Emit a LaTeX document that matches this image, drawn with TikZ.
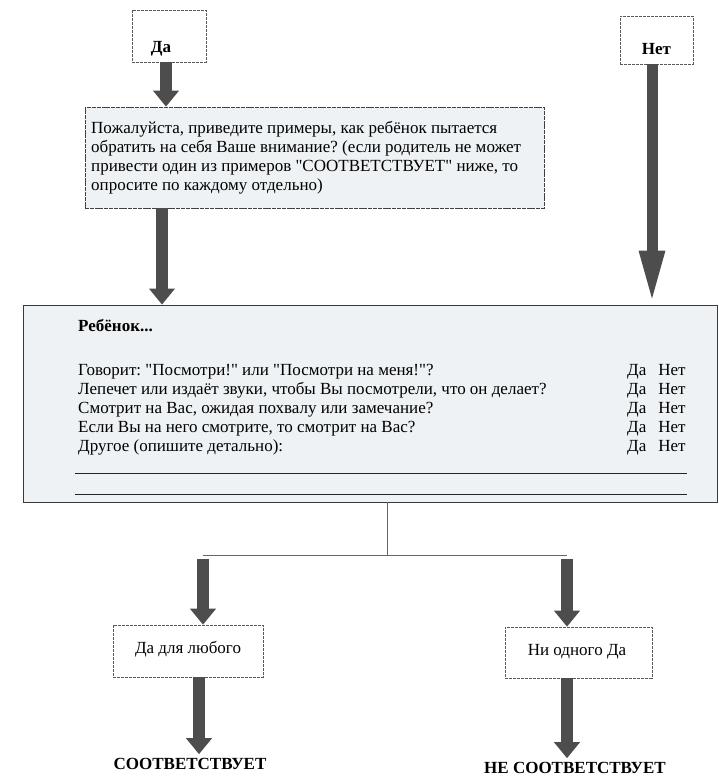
\documentclass[tikz,border=0pt]{standalone}
\usepackage{fontspec}
\setmainfont{Liberation Serif}[Ligatures=TeXOff]
\usetikzlibrary{arrows.meta}
\frenchspacing
\definecolor{arrowgray}{HTML}{4D4D4D}
\definecolor{boxfill}{HTML}{EEF2F4}
\definecolor{edge}{HTML}{3A3A3A}
\tikzset{
  fatarrow/.style={draw=arrowgray, line width=12pt, -{Triangle[width=25pt,length=16pt]}},
  longarrow/.style={draw=arrowgray, line width=11pt, -{Triangle[width=23pt,length=54pt]}},
  smallbox/.style={draw=black!65, line width=0.6pt, dash pattern=on 3pt off 1pt, fill=white, inner sep=0pt},
  qfill/.style={draw=black!75, line width=0.7pt, dash pattern=on 4pt off 0.8pt, fill=boxfill, inner sep=0pt},
  bigfill/.style={draw=edge, line width=0.8pt, fill=boxfill, inner sep=0pt},
  thinline/.style={draw=black!60, line width=0.6pt},
  rule/.style={draw=black!85, line width=0.9pt},
  txt/.style={font=\fontsize{17}{19}\selectfont},
  btxt/.style={font=\fontsize{17}{19}\selectfont\bfseries},
}
\begin{document}
\begin{tikzpicture}[x=1pt,y=-1pt]
\useasboundingbox (0,0) rectangle (719,781);
% top boxes
\node[smallbox, minimum width=74pt, minimum height=52pt] (da) at (169,36) {};
\node[btxt, anchor=base] (datxt) at (161,52.5) {Да};
\node[smallbox, minimum width=73pt, minimum height=48pt] (net) at (656.5,40) {};
\node[btxt, anchor=base] (nettxt) at (656.5,54.5) {Нет};
% question box
\node[qfill, minimum width=459pt, minimum height=101pt] (q) at (314.5,157.5) {};
\node[txt, anchor=north west, align=left, inner sep=0pt] (qtxt) at (91,121)
 {Пожалуйста, приведите примеры, как ребёнок пытается\\
  обратить на себя Ваше внимание? (если родитель не может\\
  привести один из примеров "СООТВЕТСТВУЕТ" ниже, то\\
  опросите по каждому отдельно)};
% big box
\node[bigfill, minimum width=694pt, minimum height=197pt] (big) at (370,403.5) {};
\node[btxt, anchor=base west, inner sep=0pt] (reb) at (78,331) {Ребёнок...};
\node[txt, anchor=north west, align=left, inner sep=0pt] (items) at (78,364)
 {Говорит: "Посмотри!" или "Посмотри на меня!"?\\
  Лепечет или издаёт звуки, чтобы Вы посмотрели, что он делает?\\
  Смотрит на Вас, ожидая похвалу или замечание?\\
  Если Вы на него смотрите, то смотрит на Вас?\\
  Другое (опишите детально):};
\node[txt, anchor=north west, align=left, inner sep=0pt] (yn) at (627,364)
 {Да\hspace{12pt}Нет\\Да\hspace{12pt}Нет\\Да\hspace{12pt}Нет\\Да\hspace{12pt}Нет\\Да\hspace{12pt}Нет};
\coordinate (r1a) at (75,473);
\coordinate (r1b) at (687,473);
\coordinate (r2a) at (75,494);
\coordinate (r2b) at (687,494);
\draw[rule] (r1a) -- (r1b);
\draw[rule] (r2a) -- (r2b);
% bottom boxes
\node[smallbox, minimum width=150pt, minimum height=52pt] (any) at (188,651) {};
\node[txt, anchor=base] (anytxt) at (188,653) {Да для любого};
\node[smallbox, minimum width=147pt, minimum height=51pt] (none) at (578.5,652.5) {};
\node[txt, anchor=base] (nonetxt) at (577,655) {Ни одного Да};
\node[btxt, anchor=base] (fit) at (190,769) {СООТВЕТСТВУЕТ};
\node[btxt, anchor=base] (nofit) at (575,773) {НЕ СООТВЕТСТВУЕТ};
% arrow x positions
\coordinate (xa) at (166,0);
\coordinate (xb) at (162,0);
\coordinate (xc) at (652,0);
\coordinate (xd) at (199,0);
\coordinate (xe) at (567,0);
% split
\coordinate (split) at (387,555);
\coordinate (sl) at (203,555);
\coordinate (sr) at (567,555);
\draw[thinline] (big.south -| split) -- (split);
\draw[thinline] (sl) -- (sr);
% arrows
\draw[fatarrow] (da.south -| xa) -- (q.north -| xa);
\draw[fatarrow] (q.south -| xb) -- (big.north -| xb);
\draw[longarrow] (net.south -| xc) -- (big.north -| xc);
\draw[fatarrow] ([yshift=-4pt]sl) -- (any.north -| sl);
\draw[fatarrow] ([yshift=-4pt]sr) -- (none.north -| sr);
\draw[fatarrow] (any.south -| xd) -- (fit.north -| xd);
\draw[fatarrow] (none.south -| xe) -- (nofit.north -| xe);
\end{tikzpicture}
\end{document}
